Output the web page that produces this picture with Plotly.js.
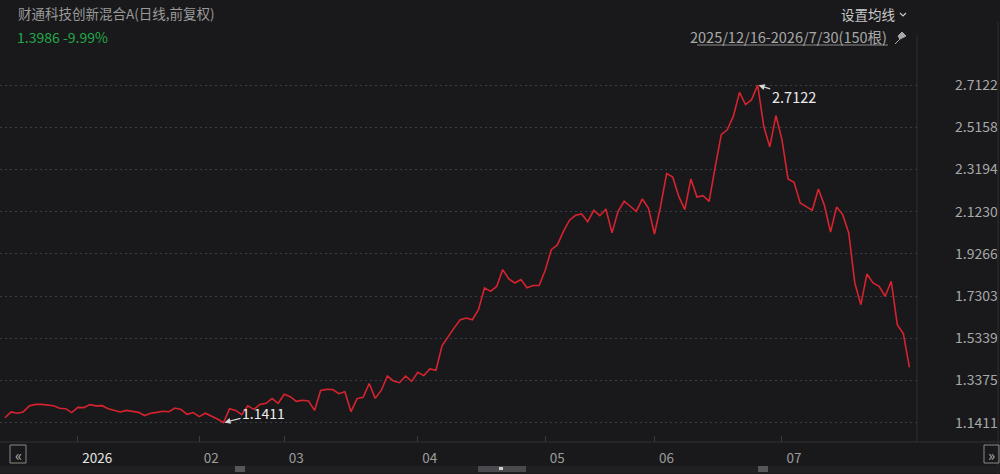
<!DOCTYPE html>
<html>
<head>
<meta charset="utf-8">
<script src="https://cdn.plot.ly/plotly-3.0.1.min.js"></script>
<style>
  html, body { margin: 0; padding: 0; background: #19191b; }
  #chart { width: 1000px; height: 474px; }
</style>
</head>
<body>
<div id="chart"></div>
<script>
// 数据：150 根日线收盘价 (2025/12/16 - 2026/7/30)
var closes = [
  1.164, 1.191, 1.185, 1.191, 1.219, 1.226, 1.226, 1.222, 1.220, 1.208,
  1.206, 1.188, 1.212, 1.211, 1.225, 1.219, 1.220, 1.206, 1.200, 1.191,
  1.198, 1.195, 1.189, 1.174, 1.185, 1.189, 1.194, 1.192, 1.209, 1.202,
  1.180, 1.188, 1.169, 1.185, 1.172, 1.158, 1.1411, 1.206, 1.198, 1.178,
  1.219, 1.203, 1.226, 1.231, 1.253, 1.231, 1.273, 1.262, 1.240, 1.245,
  1.242, 1.198, 1.291, 1.296, 1.295, 1.276, 1.285, 1.192, 1.253, 1.259,
  1.323, 1.254, 1.292, 1.358, 1.335, 1.327, 1.358, 1.333, 1.375, 1.360,
  1.391, 1.385, 1.499, 1.543, 1.582, 1.620, 1.628, 1.620, 1.667, 1.768,
  1.752, 1.775, 1.853, 1.810, 1.791, 1.807, 1.769, 1.779, 1.779, 1.850,
  1.946, 1.968, 2.031, 2.083, 2.106, 2.112, 2.076, 2.129, 2.104, 2.135,
  2.024, 2.124, 2.171, 2.148, 2.124, 2.182, 2.140, 2.019, 2.148, 2.300,
  2.284, 2.194, 2.132, 2.275, 2.191, 2.197, 2.171, 2.330, 2.481, 2.505,
  2.567, 2.678, 2.621, 2.644, 2.7122, 2.520, 2.424, 2.570, 2.458, 2.275,
  2.259, 2.163, 2.145, 2.129, 2.228, 2.151, 2.028, 2.145, 2.109, 2.024,
  1.791, 1.690, 1.833, 1.791, 1.775, 1.729, 1.799, 1.597, 1.5539, 1.3986
];
var idx = closes.map(function (v, i) { return i; });

// 月份刻度（所在 K 线序号）
var monthIdx = [12, 32, 46, 68, 89, 107, 128];
var monthText = ['2026', '02', '03', '04', '05', '06', '07'];

// 纵轴刻度
var priceTicks = [1.1411, 1.3375, 1.5339, 1.7303, 1.9266, 2.1230, 2.3194, 2.5158, 2.7122];

var maxIdx = closes.indexOf(Math.max.apply(null, closes));
var minIdx = closes.indexOf(Math.min.apply(null, closes));

var titleText = '财通科技创新混合A(日线,前复权)';
var lastText = '1.3986 -9.99%';
var rangeText = '2025/12/16-2026/7/30(150根)';

//=============================== 画图 ===============================
var FONT = '"Noto Sans CJK SC", "Noto Sans", sans-serif';
var W = 1000, H = 474;
var mL = 0, mR = 80, mT = 62, mB = 32;
var pw = W - mL - mR, ph = H - mT - mB;

// 像素 -> paper 坐标（仅装饰用）
function px(x) { return (x - mL) / pw; }
function py(y) { return (H - mB - y) / ph; }

var trace = {
  x: idx,
  y: closes,
  type: 'scatter',
  mode: 'lines',
  line: { color: '#d5232f', width: 1.6 },
  hoverinfo: 'skip'
};

var tickLabels = monthText.map(function (t, i) {
  return i === 0 ? '<span style="color:#e6e6e6">' + t + '</span>' : t;
});

var layout = {
  width: W,
  height: H,
  margin: { l: mL, r: mR, t: mT, b: mB, pad: 0 },
  paper_bgcolor: '#19191b',
  plot_bgcolor: '#19191b',
  showlegend: false,
  font: { family: FONT, size: 13, color: '#9c9c9c' },
  xaxis: {
    range: [-0.82, 150.74],
    tickmode: 'array',
    tickvals: monthIdx,
    ticktext: tickLabels,
    ticks: 'inside',
    ticklen: 6,
    tickcolor: '#3c3c40',
    ticklabelposition: 'outside right',
    ticklabelstandoff: 6,
    ticklabelshift: 4,
    tickfont: { family: FONT, size: 13.5, color: '#9c9c9c' },
    showgrid: false,
    zeroline: false,
    showline: false,
    fixedrange: true
  },
  yaxis: {
    side: 'right',
    range: [1.051, 2.8192],
    tickmode: 'array',
    tickvals: priceTicks,
    ticktext: priceTicks.map(function (v) { return v.toFixed(4); }),
    ticks: '',
    ticklabelstandoff: 34,
    tickfont: { family: FONT, size: 14, color: '#a8a8a8' },
    showgrid: true,
    gridcolor: '#3a3d46',
    griddash: '2px,3px',
    gridwidth: 1,
    zeroline: false,
    showline: false,
    fixedrange: true
  },
  shapes: [
    // 底部横线 & 右侧竖线
    { type: 'line', xref: 'paper', yref: 'paper', x0: px(0), x1: px(1000), y0: py(442), y1: py(442),
      line: { color: '#333338', width: 1 } },
    { type: 'line', xref: 'paper', yref: 'paper', x0: px(917), x1: px(917), y0: py(442), y1: py(35),
      line: { color: '#2e2e33', width: 1 } },
    { type: 'line', xref: 'paper', yref: 'paper', x0: px(998), x1: px(998), y0: py(474), y1: py(22),
      line: { color: '#2e2e33', width: 1 } },
    // 底部滚动条
    { type: 'rect', xref: 'paper', yref: 'paper', x0: px(0), x1: px(1000), y0: py(473), y1: py(466),
      fillcolor: '#202023', line: { width: 0 } },
    { type: 'rect', xref: 'paper', yref: 'paper', x0: px(478), x1: px(526), y0: py(472), y1: py(466),
      fillcolor: '#4a4a4e', line: { width: 0 } },
    { type: 'rect', xref: 'paper', yref: 'paper', x0: px(235), x1: px(245), y0: py(472), y1: py(466),
      fillcolor: '#55555a', line: { width: 0 } },
    { type: 'rect', xref: 'paper', yref: 'paper', x0: px(758), x1: px(768), y0: py(472), y1: py(466),
      fillcolor: '#55555a', line: { width: 0 } },
    { type: 'rect', xref: 'paper', yref: 'paper', x0: px(499), x1: px(503), y0: py(470), y1: py(467),
      fillcolor: '#cfcfcf', line: { width: 0 } },
    // 左右翻页按钮
    { type: 'rect', xref: 'paper', yref: 'paper', x0: px(10), x1: px(26), y0: py(463), y1: py(445),
      fillcolor: 'rgba(0,0,0,0)', line: { color: '#8a8a8a', width: 1 } },
    { type: 'rect', xref: 'paper', yref: 'paper', x0: px(984), x1: px(999), y0: py(463), y1: py(445),
      fillcolor: 'rgba(0,0,0,0)', line: { color: '#8a8a8a', width: 1 } },
    // 设置均线 下拉箭头
    { type: 'path', xref: 'paper', yref: 'paper',
      path: 'M ' + px(900) + ' ' + py(13) + ' L ' + px(903) + ' ' + py(16) + ' L ' + px(906) + ' ' + py(13),
      line: { color: '#c8c8c8', width: 1.2 } },
    // 日期下划线
    { type: 'line', xref: 'paper', yref: 'paper', x0: px(697), x1: px(888), y0: py(45), y1: py(45),
      line: { color: '#8a8a8a', width: 1 } },
    // 图钉
    { type: 'path', xref: 'paper', yref: 'paper',
      path: 'M ' + px(895) + ' ' + py(44) + ' L ' + px(900) + ' ' + py(39) +
            ' L ' + px(898) + ' ' + py(36) + ' L ' + px(902) + ' ' + py(32) +
            ' L ' + px(906) + ' ' + py(36) + ' L ' + px(902) + ' ' + py(38) +
            ' L ' + px(900) + ' ' + py(39) + ' Z',
      fillcolor: '#a8a8a8', line: { color: '#a8a8a8', width: 1 } }
  ],
  annotations: [
    { xref: 'paper', yref: 'paper', x: px(16), y: py(13), xanchor: 'left', yanchor: 'middle',
      text: titleText, showarrow: false, font: { family: FONT, size: 13.5, color: '#9a9a9a' } },
    { xref: 'paper', yref: 'paper', x: px(15), y: py(37), xanchor: 'left', yanchor: 'middle',
      text: lastText, showarrow: false, font: { family: FONT, size: 14, color: '#22a84a' } },
    { xref: 'paper', yref: 'paper', x: px(897), y: py(14), xanchor: 'right', yanchor: 'middle',
      text: '设置均线', showarrow: false, font: { family: FONT, size: 13.5, color: '#c8c8c8' } },
    { xref: 'paper', yref: 'paper', x: px(889), y: py(37), xanchor: 'right', yanchor: 'middle',
      text: rangeText, showarrow: false, font: { family: FONT, size: 14.5, color: '#a8a8a8' } },
    { xref: 'paper', yref: 'paper', x: px(18), y: py(454), xanchor: 'center', yanchor: 'middle',
      text: '«', showarrow: false, font: { family: FONT, size: 15, color: '#b0b0b0' } },
    { xref: 'paper', yref: 'paper', x: px(991.5), y: py(454), xanchor: 'center', yanchor: 'middle',
      text: '»', showarrow: false, font: { family: FONT, size: 15, color: '#b0b0b0' } },
    // 最高 / 最低 标注
    { x: maxIdx, y: closes[maxIdx], xref: 'x', yref: 'y',
      text: closes[maxIdx].toFixed(4), showarrow: true,
      arrowhead: 2, arrowsize: 1, arrowwidth: 1.2, arrowcolor: '#d8d8d8',
      ax: 36, ay: 11, xanchor: 'center', yanchor: 'middle', standoff: 1,
      font: { family: FONT, size: 14.5, color: '#ececec' } },
    { x: minIdx, y: closes[minIdx], xref: 'x', yref: 'y',
      text: closes[minIdx].toFixed(4), showarrow: true,
      arrowhead: 2, arrowsize: 1, arrowwidth: 1.2, arrowcolor: '#d8d8d8',
      ax: 40, ay: -10, xanchor: 'center', yanchor: 'middle', standoff: 1,
      font: { family: FONT, size: 14, color: '#ececec' } }
  ]
};

Plotly.newPlot('chart', [trace], layout, { staticPlot: true });
</script>
</body>
</html>
